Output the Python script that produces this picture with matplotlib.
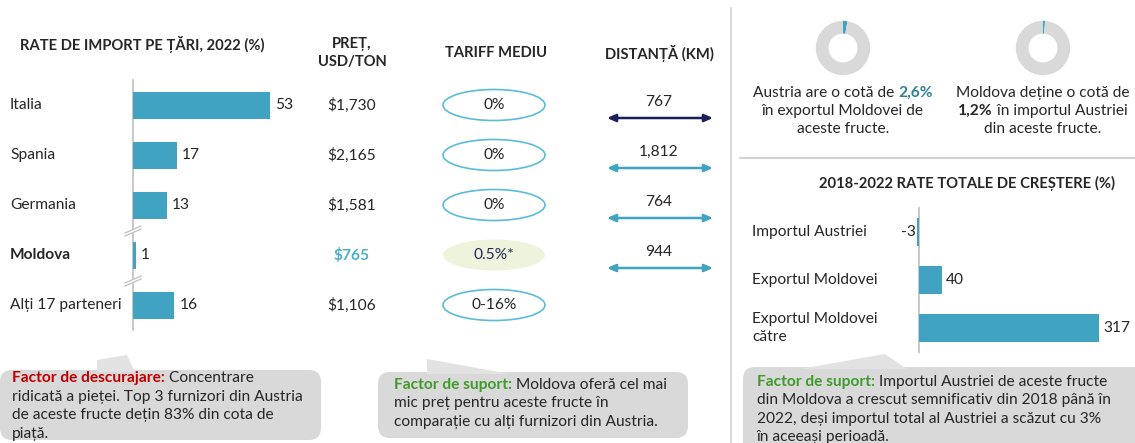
import matplotlib
matplotlib.use("Agg")
import matplotlib.pyplot as plt
from matplotlib.patches import Ellipse, FancyBboxPatch, Polygon
from matplotlib.transforms import blended_transform_factory as btf

plt.rcParams['font.family'] = ['Lato', 'DejaVu Sans']

# ---------------- data ----------------
countries = ["Italia", "Spania", "Germania", "Moldova", "Alți 17 parteneri"]
import_shares = [53, 17, 13, 1, 16]
prices = ["$1,730", "$2,165", "$1,581", "$765", "$1,106"]
tariffs = ["0%", "0%", "0%", "0.5%*", "0-16%"]
distances = ["767", "1,812", "764", "944"]
growth_labels = ["Importul Austriei", "Exportul Moldovei", "Exportul Moldovei\ncătre"]
growth_values = [-3, 40, 317]
donut_shares = [2.6, 1.2]

W, H = 1135, 443
TEAL = '#3fa3c1'
GREY_TXT = '#262626'
FS = 11.2   # body font size
HS = 10.6   # header font size
fig = plt.figure(figsize=(W / 100, H / 100), dpi=100)

# overlay axes in pixel coordinates
ov = fig.add_axes([0, 0, 1, 1])
ov.set_xlim(0, W)
ov.set_ylim(H, 0)
ov.axis('off')
ov.set_zorder(0)

def px_axes(x0, y0, x1, y1):
    return fig.add_axes([x0 / W, 1 - y1 / H, (x1 - x0) / W, (y1 - y0) / H])

renderer = fig.canvas.get_renderer()

def runs_line(x, y, runs, ha='left', size=FS, ax=ov):
    widths = []
    for txt, kw in runs:
        t = ax.text(0, 0, txt, fontsize=size, **kw)
        widths.append(t.get_window_extent(renderer).width)
        t.remove()
    total = sum(widths)
    if ha == 'center':
        x = x - total / 2
    for (txt, kw), w in zip(runs, widths):
        kw2 = dict(color=GREY_TXT)
        kw2.update(kw)
        ax.text(x, y, txt, fontsize=size, va='center', ha='left', **kw2)
        x += w

# ---------------- left bar chart ----------------
bax = px_axes(133, 80, 133 + 60 * 2.585, 330)
n = len(countries)
bax.barh(range(n), import_shares, height=0.54, color=TEAL, zorder=2)
bax.set_xlim(0, 60)
bax.set_ylim(n - 0.5, -0.5)
bax.axis('off')
bax.patch.set_alpha(0)
ov.plot([133, 133], [80, 330], color='#bfbfbf', lw=1.2, zorder=1)
for yb in [230, 280]:
    ov.add_patch(Polygon([(125, yb + 3), (141, yb - 4), (141, yb - 1), (125, yb + 6)],
                         closed=True, color='white', zorder=3))
    ov.plot([125, 141], [yb + 3, yb - 4], color='#bfbfbf', lw=0.9, zorder=4)
    ov.plot([125, 141], [yb + 6, yb - 1], color='#bfbfbf', lw=0.9, zorder=4)

tr = btf(ov.transData, bax.transData)
for i, (c, v) in enumerate(zip(countries, import_shares)):
    bold = (c == "Moldova")
    ov.text(10, i, c, transform=tr, fontsize=FS, va='center', ha='left',
            color=GREY_TXT, fontweight='bold' if bold else 'normal')
    bax.text(v + 2, i, str(v), fontsize=FS, va='center', ha='left', color=GREY_TXT)

ov.text(142, 44, "RATE DE IMPORT PE ȚĂRI, 2022 (%)", fontsize=HS, fontweight='bold',
        ha='center', va='center', color=GREY_TXT)
ov.text(352, 53, "PREȚ,\nUSD/TON", fontsize=HS, fontweight='bold', ha='center',
        va='center', color=GREY_TXT, linespacing=1.35)
ov.text(496, 53, "TARIFF MEDIU", fontsize=HS, fontweight='bold', ha='center',
        va='center', color=GREY_TXT)
ov.text(659, 53, "DISTANȚĂ (KM)", fontsize=HS, fontweight='bold', ha='center',
        va='center', color=GREY_TXT)

# prices, tariffs, distances
for i, (p, tf) in enumerate(zip(prices, tariffs)):
    yrow = H - bax.transData.transform((0, i))[1]
    is_md = countries[i] == "Moldova"
    ov.text(352, yrow, p, fontsize=FS, ha='center', va='center',
            color='#4bb0cf' if is_md else GREY_TXT,
            fontweight='bold' if is_md else 'normal')
    if is_md:
        ov.add_patch(Ellipse((494, yrow), 102, 31, facecolor='#eef3dc', edgecolor='none'))
        ov.text(494, yrow, tf, fontsize=FS, ha='center', va='center', color='#1f2a5a')
    else:
        ov.add_patch(Ellipse((494, yrow), 102, 31, facecolor='white', edgecolor='#5bbcd9', lw=1.2))
        ov.text(494, yrow, tf, fontsize=FS, ha='center', va='center', color=GREY_TXT)

for i, d in enumerate(distances):
    yy = H - bax.transData.transform((0, i))[1]
    col = '#1a1f5a' if i == 0 else TEAL
    ov.annotate('', xy=(713, yy + 13), xytext=(607, yy + 13),
                arrowprops=dict(arrowstyle='<|-|>,head_length=0.5,head_width=0.22',
                                color=col, lw=1.8, shrinkA=0, shrinkB=0))
    ov.text(659, yy - 3, d, fontsize=FS, ha='center', va='center', color=GREY_TXT)

# ---------------- dividers ----------------
ov.plot([731, 731], [8, H], color='#d0d0d0', lw=1.2)
ov.plot([740, W], [158, 158], color='#c8c8c8', lw=1.2)

# ---------------- donuts ----------------
for cx, share in zip([843, 1043], donut_shares):
    r = 34
    dax = px_axes(cx - r, 48 - r, cx + r, 48 + r)
    dax.pie([share, 100 - share], colors=[TEAL, '#d9d9d9'], startangle=90,
            counterclock=False, wedgeprops=dict(width=0.47, edgecolor='none'))
    dax.set_aspect('equal')
    dax.axis('off')

runs_line(843, 93, [("Austria are o cotă de ", {}),
                    ("2,6%", dict(color='#2f7f94', fontweight='bold'))], ha='center')
runs_line(843, 111, [("în exportul Moldovei de", {})], ha='center')
runs_line(843, 129, [("aceste fructe.", {})], ha='center')
runs_line(1043, 93, [("Moldova deține o cotă de", {})], ha='center')
runs_line(1043, 111, [("1,2%", dict(fontweight='bold')), (" în importul Austriei", {})], ha='center')
runs_line(1043, 129, [("din aceste fructe.", {})], ha='center')

# ---------------- right bar chart ----------------
ov.text(967, 183, "2018-2022 RATE TOTALE DE CREȘTERE (%)", fontsize=HS, fontweight='bold',
        ha='center', va='center', color=GREY_TXT)
gax = px_axes(919 - 10 * 0.568, 208, 919 + 370 * 0.568, 352)
m = len(growth_values)
gax.barh(range(m), growth_values, height=0.58, color=TEAL)
gax.set_xlim(-10, 370)
gax.set_ylim(m - 0.5, -0.5)
gax.axis('off')
gax.patch.set_alpha(0)
ov.plot([919, 919], [208, 352], color='#bfbfbf', lw=1.2, zorder=1)
tr2 = btf(ov.transData, gax.transData)
for i, (lab, v) in enumerate(zip(growth_labels, growth_values)):
    ov.text(752, i, lab, transform=tr2, fontsize=FS, va='center', ha='left',
            color=GREY_TXT, linespacing=1.4)
    if v < 0:
        gax.text(v - 3, i, str(v), fontsize=FS, va='center', ha='right', color=GREY_TXT)
    else:
        gax.text(v + 7, i, str(v), fontsize=FS, va='center', ha='left', color=GREY_TXT)

# ---------------- callouts ----------------
BOX = '#d9d9d9'
def callout(x0, y0, x1, y1, tail):
    ov.add_patch(FancyBboxPatch((x0, y0), x1 - x0, y1 - y0,
                                boxstyle='round,pad=0,rounding_size=12',
                                facecolor=BOX, edgecolor='none', zorder=2))
    ov.add_patch(Polygon(tail, closed=True, facecolor='#e2e2e2', edgecolor='none', zorder=2))

callout(0, 370, 321, 440, [(97, 372), (97, 360), (127, 355), (135, 372)])
callout(378, 372, 688, 438, [(427, 374), (427, 359), (510, 374)])
callout(743, 367, 1160, 470, [(800, 369), (885, 354), (907, 369)])

RED = '#c00000'
GREEN = '#3f9a2c'
def clines(x, ys, lines):
    for y, ln in zip(ys, lines):
        runs = ln if isinstance(ln, list) else [(ln, {})]
        runs = [(t, dict(k, zorder=5)) for t, k in runs]
        runs_line(x, y, runs)

clines(12, [378, 397, 415, 434], [
    [("Factor de descurajare:", dict(color=RED, fontweight='bold')), (" Concentrare", {})],
    "ridicată a pieței. Top 3 furnizori din Austria",
    "de aceste fructe dețin 83% din cota de",
    "piață."])
clines(394, [385, 403, 422], [
    [("Factor de suport:", dict(color=GREEN, fontweight='bold')), (" Moldova oferă cel mai", {})],
    "mic preț pentru aceste fructe în",
    "comparație cu alți furnizori din Austria."])
clines(757, [382, 400, 419, 437], [
    [("Factor de suport:", dict(color=GREEN, fontweight='bold')), (" Importul Austriei de aceste fructe", {})],
    "din Moldova a crescut semnificativ din 2018 până în",
    "2022, deși importul total al Austriei a scăzut cu 3%",
    "în aceeași perioadă."])

fig.savefig("out.png", dpi=100)
